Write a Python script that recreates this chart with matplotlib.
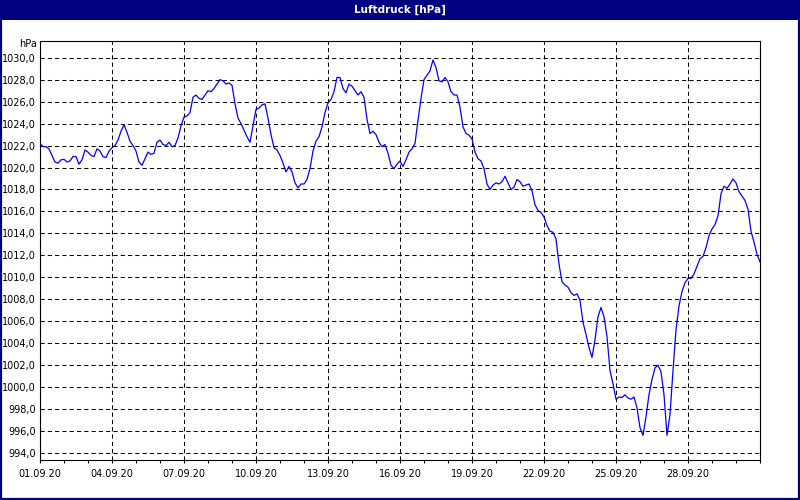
import numpy as np
import pandas as pd
import matplotlib
matplotlib.use("Agg")
import matplotlib.pyplot as plt
import matplotlib.dates as mdates
from matplotlib.patches import Rectangle
from matplotlib.ticker import FixedLocator, FixedFormatter

title = "Luftdruck [hPa]"
unit_label = "hPa"
start_time = "2020-09-01 00:00"
step = "3h"

# pressure values, 3-hourly, 01.09.20 00:00 ... 01.10.20 00:00
pressure_a = [
    1022.2, 1021.9, 1021.9, 1021.7, 1021.1, 1020.5, 1020.4, 1020.7, 1020.75, 1020.5,
    1020.6, 1021.0, 1021.0, 1020.3, 1020.7, 1021.6, 1021.4, 1021.1, 1021.0, 1021.7,
    1021.5, 1021.0, 1020.9, 1021.5, 1021.8, 1022.0, 1022.5, 1023.3, 1023.9, 1023.2,
    1022.4, 1022.0, 1021.5, 1020.5, 1020.2, 1020.8, 1021.4, 1021.2, 1021.3, 1022.3,
    1022.5, 1022.1, 1022.0, 1022.3, 1021.9, 1022.0, 1022.7, 1023.8, 1024.6, 1024.7,
    1025.0, 1026.4, 1026.6, 1026.3, 1026.2, 1026.6, 1027.0, 1026.9, 1027.2, 1027.6,
    1028.0,
]
pressure_b = [
    1027.9, 1027.6, 1027.7, 1027.5, 1025.8, 1024.5, 1024.0, 1023.4, 1022.8, 1022.3,
    1023.8, 1025.3, 1025.4, 1025.7, 1025.8, 1024.5, 1023.0, 1021.8, 1021.6, 1021.1,
    1020.4, 1019.6, 1020.1, 1019.6, 1018.6, 1018.15, 1018.5, 1018.5, 1018.9, 1019.9,
    1021.5, 1022.4, 1022.8, 1023.7, 1025.0, 1025.9, 1026.2, 1026.9, 1028.2, 1028.2,
    1027.2, 1026.8, 1027.6, 1027.4, 1027.0, 1026.6, 1026.9, 1026.4, 1024.4, 1023.1,
    1023.3, 1023.0, 1022.3, 1021.9, 1022.1, 1021.3, 1020.2, 1019.9, 1020.3, 1020.6,
]
pressure_c = [
    1020.1, 1020.7, 1021.4, 1021.7, 1022.2, 1024.3, 1026.3, 1028.0, 1028.4, 1028.8,
    1029.8, 1029.1, 1027.9, 1027.8, 1028.2, 1027.8, 1026.9, 1026.6, 1026.6, 1025.5,
    1023.7, 1023.1, 1022.95, 1022.6, 1021.4, 1020.8, 1020.6, 1019.9, 1018.5, 1018.0,
    1018.4, 1018.6, 1018.5, 1018.7, 1019.2, 1018.6, 1018.0, 1018.2, 1018.9, 1018.7,
    1018.3, 1018.4, 1018.5, 1017.9, 1016.6, 1016.1, 1015.9, 1015.5, 1014.7, 1014.2,
    1014.1, 1013.5,
]
pressure_d = [
    1011.2, 1009.6, 1009.3, 1009.1, 1008.6, 1008.35, 1008.5, 1007.9, 1005.9, 1004.8,
    1003.6, 1002.7, 1004.3, 1006.4, 1007.25, 1006.4, 1004.6, 1001.5, 1000.3, 998.9,
    999.1, 999.05, 999.3, 999.0, 998.9, 999.1, 998.1, 996.3, 995.6, 997.3,
    999.3, 1000.7, 1001.75, 1002.0, 1001.4, 999.3, 995.6, 997.5, 1001.5, 1005.2,
    1007.4, 1008.7, 1009.5, 1009.9, 1009.9, 1010.3, 1011.0, 1011.7,
]
pressure_e = [
    1011.9, 1012.7, 1013.8, 1014.4, 1014.8, 1015.6, 1017.6, 1018.3, 1018.1, 1018.5,
    1018.95, 1018.6, 1017.8, 1017.4, 1017.0, 1016.2, 1014.2, 1013.2, 1012.1, 1011.4,
]
pressure = pressure_a + pressure_b + pressure_c + pressure_d + pressure_e

y_ticks = [994, 996, 998, 1000, 1002, 1004, 1006, 1008, 1010, 1012, 1014, 1016,
           1018, 1020, 1022, 1024, 1026, 1028, 1030]
y_tick_labels = ["994,0", "996,0", "998,0", "1000,0", "1002,0", "1004,0", "1006,0",
                 "1008,0", "1010,0", "1012,0", "1014,0", "1016,0", "1018,0", "1020,0",
                 "1022,0", "1024,0", "1026,0", "1028,0", "1030,0"]
x_tick_dates = ["2020-09-01", "2020-09-04", "2020-09-07", "2020-09-10", "2020-09-13",
                "2020-09-16", "2020-09-19", "2020-09-22", "2020-09-25", "2020-09-28"]
x_tick_labels = ["01.09.20", "04.09.20", "07.09.20", "10.09.20", "13.09.20",
                 "16.09.20", "19.09.20", "22.09.20", "25.09.20", "28.09.20"]

times = pd.date_range(start_time, periods=len(pressure), freq=step)

navy = "#000080"
fig = plt.figure(figsize=(8, 5), dpi=100)
fig.patch.set_facecolor("white")

# title bar and window frame
fig.patches.append(Rectangle((0, 0.96), 1, 0.04, transform=fig.transFigure,
                             facecolor=navy, edgecolor="none", zorder=0))
fig.patches.append(Rectangle((0.0015, 0.002), 0.997, 0.996, transform=fig.transFigure,
                             facecolor="none", edgecolor=navy, linewidth=1.6, zorder=1))
fig.text(0.5, 0.981, title, color="white", fontsize=7.5, fontweight="bold",
         ha="center", va="center", family="DejaVu Sans")

ax = fig.add_axes([0.05, 0.08, 0.90, 0.8386])
ax.plot(times, pressure, color="#0000ff", linewidth=0.9, zorder=3)

ax.set_xlim(pd.Timestamp("2020-09-01"), pd.Timestamp("2020-10-01"))
ax.set_ylim(993.36, 1031.55)

ax.xaxis.set_major_locator(FixedLocator(mdates.date2num(pd.to_datetime(x_tick_dates))))
ax.xaxis.set_major_formatter(FixedFormatter(x_tick_labels))
ax.xaxis.set_minor_locator(mdates.DayLocator())
ax.yaxis.set_major_locator(FixedLocator(y_ticks))
ax.yaxis.set_major_formatter(FixedFormatter(y_tick_labels))

ax.tick_params(axis="x", which="both", direction="out", length=2.5, width=0.8,
               labelsize=7, pad=4, colors="black")
ax.tick_params(axis="y", which="both", length=0, labelsize=7, pad=3, colors="black")

ax.grid(True, which="major", color="black", linestyle=(0, (4, 3)), linewidth=0.75)
for s in ax.spines.values():
    s.set_color("black")
    s.set_linewidth(0.8)

ax.text(-0.004, 1031.25, unit_label, transform=ax.get_yaxis_transform(),
        ha="right", va="center", fontsize=7, color="black")

fig.savefig("out.png", dpi=100)
